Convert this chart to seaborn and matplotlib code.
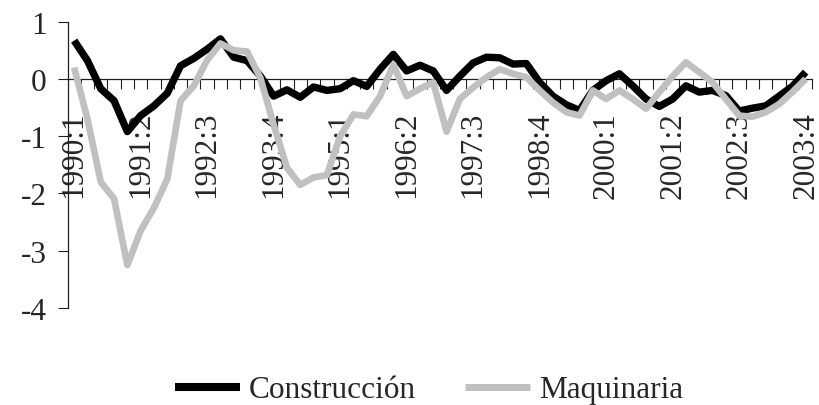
import numpy as np
import pandas as pd
import matplotlib
matplotlib.use("Agg")
import matplotlib.pyplot as plt
from matplotlib.ticker import FixedLocator
from matplotlib.lines import Line2D
import seaborn as sns

# Quarterly periods 1990:1 .. 2003:4
quarters = [f"{y}:{q}" for y in range(1990, 2004) for q in range(1, 5)]

construccion = [
    0.67, 0.32, -0.17, -0.38, -0.92, -0.64, -0.47, -0.25, 0.23, 0.36,
    0.52, 0.70, 0.38, 0.32, 0.05, -0.30, -0.19, -0.32, -0.14, -0.20,
    -0.17, -0.03, -0.13, 0.17, 0.43, 0.14, 0.24, 0.14, -0.20, 0.05,
    0.28, 0.38, 0.37, 0.26, 0.27, -0.06, -0.30, -0.45, -0.55, -0.20,
    -0.03, 0.09, -0.12, -0.35, -0.48, -0.35, -0.12, -0.23, -0.20, -0.29,
    -0.56, -0.51, -0.47, -0.30, -0.13, 0.12,
]
maquinaria = [
    0.20, -0.70, -1.80, -2.09, -3.25, -2.65, -2.25, -1.75, -0.38, -0.12,
    0.33, 0.62, 0.50, 0.48, 0.02, -0.80, -1.55, -1.85, -1.72, -1.68,
    -1.00, -0.62, -0.65, -0.30, 0.25, -0.30, -0.17, -0.06, -0.92, -0.35,
    -0.15, 0.03, 0.17, 0.09, 0.03, -0.20, -0.41, -0.58, -0.64, -0.20,
    -0.35, -0.20, -0.35, -0.52, -0.23, 0.05, 0.29, 0.12, -0.06, -0.35,
    -0.64, -0.66, -0.58, -0.44, -0.23, 0.00,
]
tick_labels = quarters[::5]
y_ticks = [1, 0, -1, -2, -3, -4]
series_names = ["Construcción", "Maquinaria"]
series_colors = ["#000000", "#c0c0c0"]

sns.set_theme(style="white")
plt.rcParams["font.family"] = ["Liberation Serif", "DejaVu Serif"]
plt.rcParams["axes.unicode_minus"] = False

FS = 22.5

df = pd.DataFrame({
    "pos": list(range(len(quarters))) * 2,
    "valor": construccion + maquinaria,
    "serie": [series_names[0]] * len(quarters) + [series_names[1]] * len(quarters),
})

fig = plt.figure(figsize=(8.2, 4.06), dpi=100)
ax = fig.add_axes([67.5 / 820, 1 - 309 / 406, (812.3 - 67.5) / 820, (309 - 22.7) / 406])

line_kw = dict(solid_capstyle="butt", solid_joinstyle="round")
sns.lineplot(data=df[df.serie == series_names[0]], x="pos", y="valor",
             color=series_colors[0], lw=5.3, ax=ax, legend=False, zorder=3, **line_kw)
sns.lineplot(data=df[df.serie == series_names[1]], x="pos", y="valor",
             color=series_colors[1], lw=4.8, ax=ax, legend=False, zorder=4, **line_kw)

n = len(quarters)
ax.set_xlim(-0.5, n - 0.5)
ax.set_ylim(-4, 1)
ax.set_xlabel("")
ax.set_ylabel("")

for s in ["top", "right"]:
    ax.spines[s].set_visible(False)
ax.spines["bottom"].set_position(("data", 0))
for s in ["bottom", "left"]:
    ax.spines[s].set_color("#202020")
    ax.spines[s].set_linewidth(0.9)

# category labels every five quarters, tick marks on category boundaries
ax.xaxis.set_major_locator(FixedLocator(list(range(0, n, 5))))
ax.set_xticklabels(tick_labels, rotation=90, ha="center", va="top", fontsize=FS)
ax.xaxis.set_minor_locator(FixedLocator([k + 0.5 for k in range(n)]))
ax.tick_params(axis="x", which="major", length=0, pad=23)
ax.tick_params(axis="x", which="minor", direction="out", length=7.2,
               width=0.8, color="#202020", bottom=True)

ax.set_yticks(y_ticks)
ax.set_yticklabels([str(v) for v in y_ticks], fontsize=FS)
ax.tick_params(axis="y", direction="out", length=7.2, width=0.8,
               color="#202020", left=True, pad=8)

ax.grid(False)
ax.set_facecolor("white")

handles = [Line2D([], [], color=series_colors[0], lw=5.8, solid_capstyle="butt"),
           Line2D([], [], color=series_colors[1], lw=5.0, solid_capstyle="butt")]
fig.legend(handles, series_names, loc="center", bbox_to_anchor=(0.523, 1 - 391 / 406),
           ncol=2, frameon=False, fontsize=FS, handlelength=2.07,
           handletextpad=0.29, columnspacing=1.57, borderpad=0.0)

fig.savefig("out.png", dpi=100, facecolor="white")
